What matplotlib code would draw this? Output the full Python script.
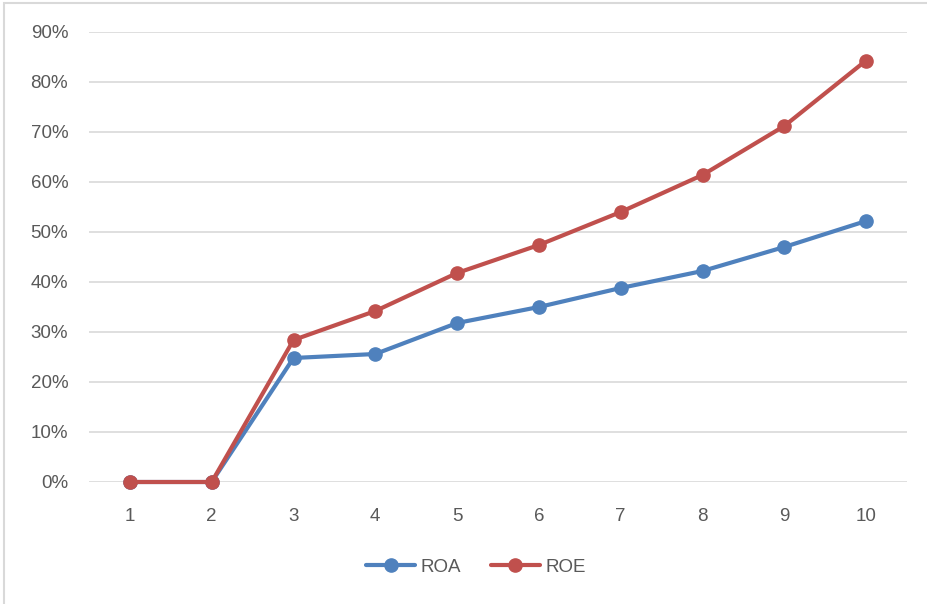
import matplotlib.pyplot as plt
from matplotlib.patches import Rectangle
from matplotlib.ticker import PercentFormatter

periods = [1, 2, 3, 4, 5, 6, 7, 8, 9, 10]
roa = [0.0, 0.0, 0.248, 0.256, 0.318, 0.350, 0.388, 0.422, 0.470, 0.522]
roe = [0.0, 0.0, 0.284, 0.342, 0.418, 0.474, 0.540, 0.614, 0.712, 0.843]

plt.rcParams['font.family'] = ['Liberation Sans', 'DejaVu Sans']

fig = plt.figure(figsize=(9.27, 6.04), dpi=100)
# light frame around the chart area (left and top edges visible)
fig.patches.append(Rectangle((4 / 927, -0.05), 1.2, 1 - 3 / 604 + 0.05,
                             transform=fig.transFigure, fill=False,
                             edgecolor='#d9d9d9', linewidth=1.5))

ax = fig.add_axes([89 / 927, 1 - 482 / 604, 818 / 927, 450 / 604])

ax.plot(periods, roa, color='#4f81bd', linewidth=3, marker='o',
        markersize=9.5, label='ROA', solid_capstyle='round', clip_on=False)
ax.plot(periods, roe, color='#c0504d', linewidth=3, marker='o',
        markersize=9.5, label='ROE', solid_capstyle='round', clip_on=False)

ax.set_xlim(0.5, 10.5)
ax.set_ylim(0, 0.9)
ax.set_xticks(periods)
ax.set_yticks([i / 10 for i in range(10)])
ax.yaxis.set_major_formatter(PercentFormatter(1.0, decimals=0))

ax.grid(axis='y', color='#d9d9d9', linewidth=1.2)
ax.set_axisbelow(True)
for s in ax.spines.values():
    s.set_visible(False)
ax.tick_params(length=0, labelsize=13.5, labelcolor='#595959')
ax.tick_params(axis='x', pad=19)
ax.tick_params(axis='y', pad=15)

leg = ax.legend(loc='center', bbox_to_anchor=(476 / 927, 1 - 567 / 604),
                bbox_transform=fig.transFigure, ncol=2, frameon=False,
                fontsize=13.5, handlelength=2.6, handletextpad=0.3,
                columnspacing=1.6)
for t in leg.get_texts():
    t.set_color('#595959')

fig.savefig('out.png', dpi=100)
